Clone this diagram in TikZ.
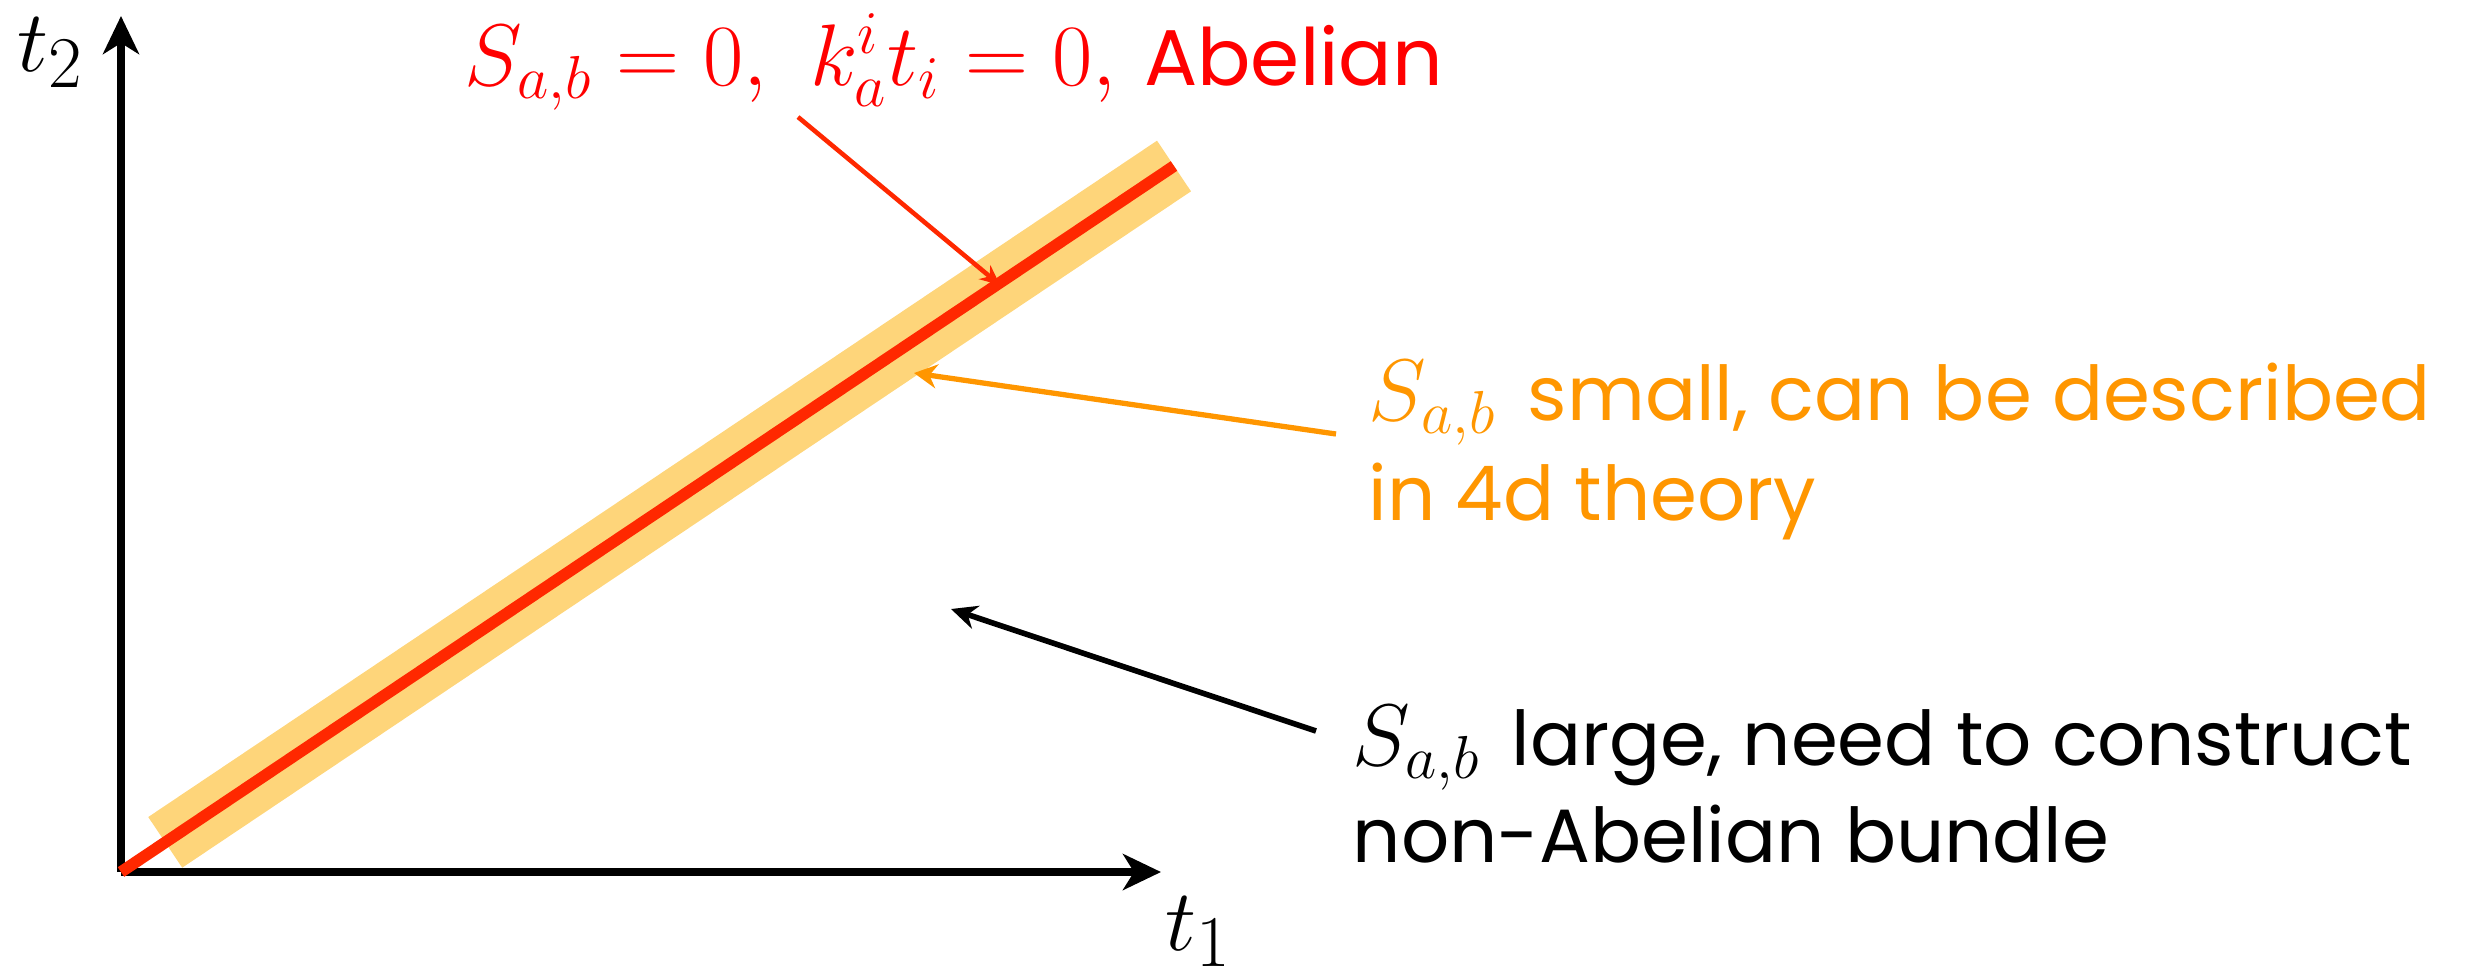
\documentclass[tikz,border=0pt]{standalone}
\usepackage{fontspec}
\newfontfamily\comic{Poppins}
\usetikzlibrary{arrows.meta,calc}
\definecolor{tred}{RGB}{255,0,0}
\definecolor{lred}{RGB}{255,40,0}
\definecolor{bandc}{RGB}{254,213,122}
\definecolor{torange}{RGB}{255,150,0}
\newcommand{\mth}[2][25.5]{{\fontsize{#1}{30}\selectfont$#2$}}
\begin{document}
\begin{tikzpicture}[x=0.1mm,y=-0.1mm,
  axis/.style={line width=2.2pt,-{Stealth[length=3.8mm,width=3.6mm,inset=1.1mm]}},
  lbl/.style={inner sep=0pt,anchor=base west,font=\fontsize{21.5}{26}\selectfont},
  axlbl/.style={inner sep=0pt,anchor=base west,font=\fontsize{28}{34}\selectfont}]
\useasboundingbox (0,0) rectangle (2471,974);
\coordinate (O) at (121,872);
\coordinate (X) at (1161,872);
\coordinate (Y) at (121,16);
\coordinate (L) at (1174,166);
% band
\draw[bandc,line width=6.1mm] ($(O)!0.042!(L)$) -- (L);
% axes
\draw[axis] (O) -- (X);
\draw[axis] (O) -- (Y);
% red line
\draw[lred,line width=3.3pt] (O) -- (L);
% labels
\node[axlbl] (t2) at (17,71) {$t_2$};
\node[axlbl] (t1) at (1165,950) {$t_1$};
\node[lbl,text=tred] (title) at (464,85) {\mth[26.5]{S_{a,b}=0,\ k_a^i t_i=0,}\hspace{8pt}{\fontsize{22.5}{26}\selectfont\comic Abelian}};
\node[lbl,text=torange] (or1) at (1368,420) {\mth{S_{a,b}}\hspace{9pt}\comic small, can be described};
\node[lbl,text=torange] (or2) at (1368,520) {\comic in 4d theory};
\node[lbl] (bl1) at (1352,765) {\mth{S_{a,b}}\hspace{9pt}\comic large, need to construct};
\node[lbl] (bl2) at (1352,862) {\comic non-Abelian bundle};
% pointers
\coordinate (rs) at (798,117);
\coordinate (re) at (1000,285);
\coordinate (os) at (1336,434);
\coordinate (oe) at (914,373);
\coordinate (bs) at (1316,731);
\coordinate (be) at (951,609);
\draw[line width=1.3pt,lred,-{Stealth[length=2mm,width=1.8mm]}] (rs) -- (re);
\draw[line width=1.5pt,torange,-{Stealth[length=2.3mm,width=2.4mm]}] (os) -- (oe);
\draw[line width=1.6pt,-{Stealth[length=2.6mm,width=2.4mm]}] (bs) -- (be);
\end{tikzpicture}
\end{document}
